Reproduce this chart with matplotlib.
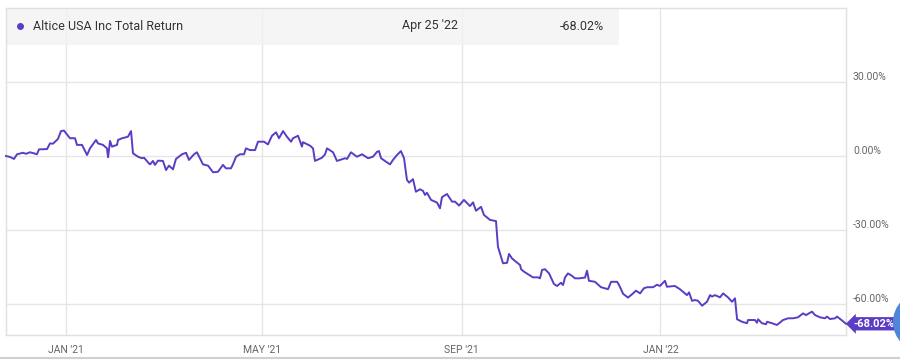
import numpy as np
import pandas as pd
import matplotlib
matplotlib.use("Agg")
import matplotlib.pyplot as plt
from matplotlib.patches import Rectangle, Ellipse
from matplotlib.lines import Line2D

plt.rcParams['font.family'] = ['Roboto', 'DejaVu Sans']

# ---- data ----
start_date = "2020-11-25"
day_offsets = [0, 2.5, 4.9, 6.8, 10.4, 12.3, 14.7, 16.6, 19.0, 20.3, 25.2, 27.0, 28.9, 31.9, 33.8, 35.6,
               39.3, 42.4, 43.6, 46.7, 49.8, 51.6, 55.3, 56.5, 59.6, 62.0, 62.7, 63.9, 65.1, 68.2, 68.8,
               71.3, 74.9, 76.8, 78.0, 81.1, 83.5, 84.8, 87.8,
               88.5, 90.3, 91.5, 93.4, 96.4, 98.3, 100.1, 102.6, 104.4, 108.1, 110.6, 112.4, 115.5, 117.3,
               121.0, 124.1, 127.2, 130.2, 133.3, 135.1, 138.2, 139.4, 141.3, 143.7, 146.2, 147.4, 149.9,
               153.0, 154.8, 158.5, 160.9, 163.4, 165.9, 167.7, 170.2, 172.6, 175.1, 176.3, 179.4, 181.8,
               182.4, 186.7, 188.6, 189.8, 194.1, 196.0, 197.2, 200.9, 203.3, 208.3, 209.5, 211.9, 215.6,
               218.7, 222.4, 225.4, 227.9, 229.1, 230.4, 233.4, 235.9, 237.7, 240.2, 242.6, 244.5, 246.3,
               247.6, 250.0, 251.8, 254.3, 256.1, 257.4, 258.6, 261.1, 264.8, 266.6, 267.8, 270.9, 274.0,
               275.8, 278.3, 281.3, 285.0, 286.9, 288.7, 291.8, 293.6, 297.3, 301.0, 302.2, 305.3, 307.8,
               309.0, 310.8, 313.3, 315.8, 316.4, 318.2, 321.3, 323.7, 326.8, 328.0, 329.3, 331.1, 333.6,
               336.6, 338.5, 340.9, 342.2, 343.4, 345.2, 347.7, 349.5, 352.0, 355.7, 356.9, 358.1, 361.8,
               365.5, 369.8, 371.7, 375.4, 376.6, 379.1, 382.1, 385.2, 387.0, 389.5, 391.9, 393.8, 397.5,
               399.9, 401.7, 404.8, 406.0, 410.9, 414.0, 418.3, 419.6, 421.4, 423.2, 425.1, 427.6, 430.6,
               432.5, 433.7, 435.5, 438.6, 440.5, 443.5, 446.0, 447.8, 449.1, 452.1, 455.2, 455.8, 460.1,
               461.3, 462.0, 464.4, 466.9, 467.5, 470.5, 473.6, 477.3, 480.4, 483.5, 486.5, 489.6, 491.4,
               495.1, 497.0, 500.0, 503.1, 504.3, 506.2, 509.3, 510.5, 513.6, 516.0]
total_return = [0.0, -0.4, -1.2, 0.7, 1.3, 0.9, 1.5, 1.2, 0.7, 2.7, 2.8, 5.1, 5.0, 6.9, 10.1, 10.3,
                7.2, 7.2, 4.5, 4.5, 0.4, 3.1, 6.5, 5.1, 4.5, 3.1, -0.5, 6.1, 3.8, 4.5, 6.5,
                7.2, 7.8, 10.1, 1.1, -0.3, -0.9, -0.7, -3.0,
                -3.4, -2.0, -3.6, -1.9, -2.0, -5.7, -3.9, -5.4, -1.2, 0.7, 1.3, -1.6, 0.7, 1.5,
                -3.4, -3.9, -6.6, -6.4, -3.6, -5.0, -5.0, -3.4, -0.3, 0.7, 0.7, 3.1, 2.4,
                2.4, 5.8, 5.8, 4.7, 8.2, 9.6, 7.2, 10.1, 7.8, 5.8, 7.2, 8.2, 3.8,
                5.6, 4.2, 3.1, -2.0, -0.7, 0.7, 3.1, 1.5, -2.0, -0.9, -1.2, 1.5, -0.3,
                0.7, -0.9, -0.3, 1.7, 2.0, -0.9, -2.3, -3.4, -1.6, 0.4, 2.0, -0.9, -9.7,
                -10.8, -9.4, -14.5, -13.5, -14.1, -15.8, -14.9, -17.8, -18.9, -21.2, -16.7, -15.4, -18.5,
                -18.5, -20.1, -17.8, -20.3, -18.8, -22.2, -20.6, -23.9, -25.9, -26.4, -36.8, -43.5, -43.3,
                -39.7, -41.5, -42.9, -44.2, -45.9, -46.9, -48.2, -49.2, -49.2, -49.6, -46.2, -45.9, -47.6,
                -51.9, -52.7, -51.4, -52.3, -49.2, -47.6, -48.6, -49.6, -49.6, -49.3, -46.5, -50.6, -51.0,
                -53.2, -54.0, -51.0, -51.0, -52.3, -55.9, -57.4, -55.7, -54.6, -55.7, -53.6, -53.2, -53.2,
                -52.2, -52.7, -50.6, -53.0, -52.7, -54.0, -56.4, -55.3, -58.7, -58.4, -58.7, -60.7, -59.1,
                -56.4, -57.0, -56.4, -57.3, -55.7, -57.3, -59.1, -57.7, -66.2, -67.2, -67.8, -66.5, -66.5,
                -67.6, -66.2, -67.8, -68.2, -67.2, -67.8, -68.5, -66.5, -65.8, -65.8, -65.4, -63.8, -64.5,
                -63.1, -64.5, -65.4, -65.8, -65.1, -66.1, -65.8, -65.1, -66.7, -68.02]

series_name = "Altice USA Inc Total Return"
last_date_label = "Apr 25 '22"
last_value_label = "-68.02%"
x_tick_dates = ["2021-01-01", "2021-05-01", "2021-09-01", "2022-01-01"]
x_tick_labels = ["JAN '21", "MAY '21", "SEP '21", "JAN '22"]
y_ticks = [30, 0, -30, -60]
y_tick_labels = ["30.00%", "0.00%", "-30.00%", "-60.00%"]

dates = pd.to_datetime(start_date) + pd.to_timedelta(day_offsets, unit="D")

# ---- style ----
LINE = "#5b3cc4"
GRID = "#e6e6e6"
TXT = "#666666"
W, H = 900, 361

fig = plt.figure(figsize=(9, 3.61), dpi=100)
ax = fig.add_axes([6 / W, 26 / H, 840 / W, 327 / H])

ax.plot(dates, total_return, color=LINE, lw=1.4, solid_joinstyle="round", zorder=3, clip_on=False)

ax.set_xlim(dates[0], dates[-1])
ax.set_ylim(-72.57, 60.0)

ax.set_xticks(pd.to_datetime(x_tick_dates))
ax.set_xticklabels(x_tick_labels)
ax.set_yticks(y_ticks)
ax.set_yticklabels(y_tick_labels)
ax.yaxis.tick_right()
ax.tick_params(axis="both", length=0, colors=TXT, labelsize=7.5)
ax.tick_params(axis="x", pad=7)
ax.tick_params(axis="y", pad=5)
for lab in ax.get_yticklabels():
    lab.set_verticalalignment("bottom")
ax.grid(True, color=GRID, lw=1.0, zorder=1)
ax.set_axisbelow(True)
for s in ax.spines.values():
    s.set_color("#e0e0e0")
    s.set_linewidth(1.0)

# legend / hover box
ax.add_patch(Rectangle((0, 1 - 37 / 327), 613 / 840, 37 / 327, transform=ax.transAxes,
                       facecolor="#f2f2f2", alpha=0.75, edgecolor="none", zorder=2))
ax.plot([14 / 840], [1 - 18 / 327], marker="o", ms=4, color=LINE, transform=ax.transAxes, zorder=4)
ax.text(27 / 840, 1 - 18 / 327, series_name, transform=ax.transAxes, va="center", ha="left",
        fontsize=9, color="#333333", zorder=4)
ax.text(452 / 840, 1 - 18 / 327, last_date_label, transform=ax.transAxes, va="center", ha="right",
        fontsize=9, color="#333333", zorder=4)
ax.text(598 / 840, 1 - 18 / 327, last_value_label, transform=ax.transAxes, va="center", ha="right",
        fontsize=9, color="#333333", zorder=4)

# end tag
ax.annotate(last_value_label, xy=(dates[-1], total_return[-1]), xytext=(5, 0), textcoords="offset points",
            ha="left", va="center", fontsize=8, fontweight="bold", color="white",
            annotation_clip=False, zorder=5,
            bbox=dict(boxstyle="larrow,pad=0.15", fc=LINE, ec="none"))

# UI widget circle at right edge and bottom separator
fig.patches.append(Ellipse((923 / W, 1 - 322 / H), 60 / W, 60 / H, transform=fig.transFigure,
                           facecolor="#4f86dc", edgecolor="none", zorder=10))
fig.lines.append(Line2D([0, 1], [1 - 358 / H, 1 - 358 / H], transform=fig.transFigure,
                        color="#d0d0d0", lw=1.5))

fig.savefig("out.png", dpi=100)
